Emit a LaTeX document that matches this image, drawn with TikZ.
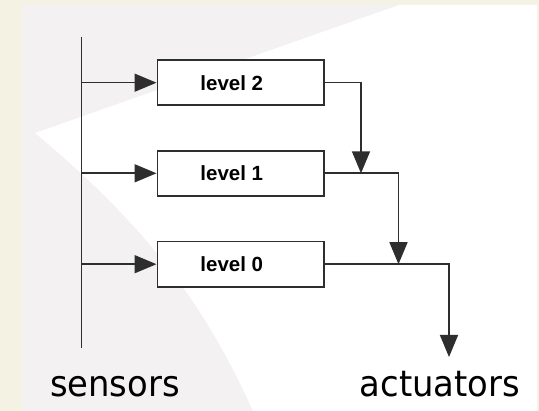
\documentclass[tikz,border=0pt]{standalone}
\usepackage{fontspec}
\setmainfont{Liberation Sans}
\newfontfamily\labelfont{DejaVu Sans}
\usetikzlibrary{arrows.meta}

\definecolor{cream}{HTML}{F4F2E2}
\definecolor{panel}{HTML}{F3F1F1}
\definecolor{ink}{HTML}{2E2E2E}

\tikzset{
  wire/.style={draw=ink, line width=1.6pt},
  feed/.style={wire, -{Triangle[length=22pt,width=18pt]}},
  levelbox/.style={draw=ink, line width=1.8pt, fill=white, inner sep=0pt,
    minimum width=166.8pt, minimum height=45.3pt,
    font=\fontsize{20.5pt}{24pt}\selectfont\bfseries},
  endlabel/.style={inner sep=0pt, anchor=base west,
    font=\labelfont\fontsize{36pt}{40pt}\selectfont}
}

\begin{document}
\begin{tikzpicture}[x=1pt, y=-1pt]
  % backdrop: cream frame, grey panel and the white sweep
  \useasboundingbox (0,0) rectangle (539,411);
  \fill[cream] (0,0) rectangle (539,411);
  \fill[panel] (22,5) rectangle (537,411);
  \fill[white] (399,5) -- (537,5) -- (537,411) -- (253,411)
    .. controls (203.5,301) and (143,223) .. (35,133) -- cycle;

  % sensor bus
  \coordinate (bustop) at (81.5,36.7);
  \coordinate (busbot) at (81.5,348.3);
  \draw[wire] (bustop) -- (busbot);

  % control levels
  \node[levelbox] (l2) at (240.8,82.7) {\hspace*{-18pt}level 2};
  \node[levelbox] (l1) at (240.8,173.3) {\hspace*{-18pt}level 1};
  \node[levelbox] (l0) at (240.8,264.2) {\hspace*{-18pt}level 0};

  % sensor inputs
  \foreach \n in {l2,l1,l0}
    \draw[feed] (\n.west -| bustop) -- (\n.west);

  % merge points on the outputs
  \coordinate (m1) at (361,173.3);
  \coordinate (m0) at (398.5,264.2);
  \coordinate (act) at (449,357);

  \draw[feed] (l2.east) -| (m1);
  \draw[wire] (l1.east) -- (m1);
  \draw[feed] (m1) -| (m0);
  \draw[wire] (l0.east) -- (m0);
  \draw[feed] (m0) -| (act);

  % end labels
  \node[endlabel] (sens) at (49.8,396.7) {\scalebox{0.94}[1]{sensors}};
  \node[endlabel] (actu) at (359.7,396.7) {\scalebox{0.94}[1]{actuators}};
\end{tikzpicture}
\end{document}
